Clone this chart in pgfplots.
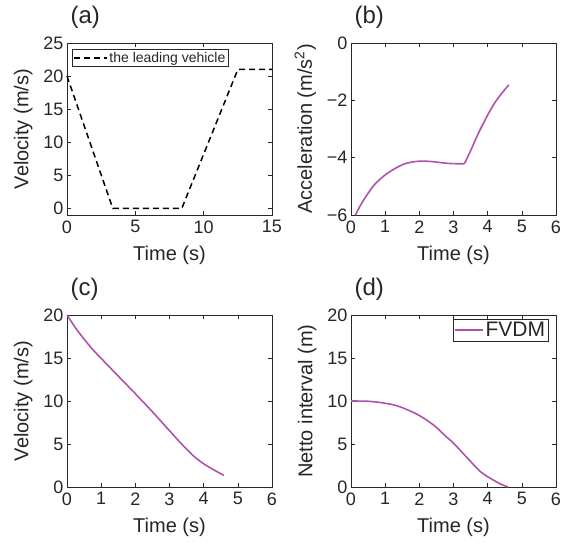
\documentclass[border=0pt]{standalone}
\usepackage{fontspec}
\setmainfont{Liberation Sans}
\usepackage{pgfplots}
\pgfplotsset{compat=1.18}
\definecolor{fv}{RGB}{176,82,170}
\definecolor{axc}{RGB}{40,40,40}
\begin{document}
\begin{tikzpicture}
\useasboundingbox (0pt,0pt) rectangle (562pt,-542pt);
\pgfplotsset{
  every axis/.append style={
    scale only axis, width=205pt, height=172pt, anchor=south west,
    axis line style={axc, line width=0.8pt},
    tick style={axc, line width=0.6pt},
    major tick length=4pt,
    tick align=inside,
    /pgf/number format/assume math mode=true,
    ticklabel style={font=\fontsize{18}{20}\selectfont, text=black!85},
    xticklabel shift=2pt,
    label style={font=\fontsize{20}{22}\selectfont, text=black!85},
    xlabel shift=6pt,
    ylabel shift=4pt,
    legend style={draw=axc, line width=0.8pt, inner sep=1pt, outer sep=0pt,
      legend cell align=left, text=black!85},
    clip=false,
  }
}
% (a)
\begin{axis}[name=a, at={(67pt,-215pt)},
  xmin=0, xmax=15, ymin=-1, ymax=25,
  xtick={0,5,10,15}, ytick={0,5,10,15,20,25},
  xlabel={Time (s)}, ylabel={Velocity (m/s)},
  legend style={at={(rel axis cs:0.024,0.965)}, anchor=north west,
    font=\fontsize{14}{15}\selectfont},
  legend image code/.code={\draw[#1] (0pt,0pt) -- (33pt,0pt);},
]
\addplot[black, line width=1.5pt, dash pattern=on 6pt off 4pt] coordinates {
(0,20) (3.35,0) (8.4,0) (12.5,21) (15,21)};
\addlegendentry{the leading vehicle}
\end{axis}
\node[anchor=base west, font=\fontsize{24}{26}\selectfont, text=black!85] at ([yshift=20pt]a.north west) {(a)};
% (b)
\begin{axis}[name=b, at={(351pt,-215pt)},
  xmin=0, xmax=6, ymin=-6, ymax=0,
  xtick={0,1,2,3,4,5,6}, ytick={-6,-4,-2,0},
  yticklabels={−6,−4,−2,0},
  xlabel={Time (s)}, ylabel={Acceleration (m/s\textsuperscript{2})},
]
\addplot[fv, line width=1.6pt, smooth] coordinates {
(0.13,-6.0) (0.25,-5.72) (0.4,-5.42) (0.68,-4.95) (0.98,-4.62) (1.27,-4.39)
(1.56,-4.22) (1.85,-4.14) (2.1,-4.12) (2.4,-4.14) (2.75,-4.19) (3.05,-4.21) (3.32,-4.21)};
\addplot[fv, line width=1.6pt, smooth] coordinates {
(3.32,-4.21) (3.5,-3.76) (3.7,-3.22) (3.9,-2.74) (4.07,-2.36) (4.25,-2.01)
(4.45,-1.7) (4.62,-1.46)};
\end{axis}
\node[anchor=base west, font=\fontsize{24}{26}\selectfont, text=black!85] at ([yshift=20pt]b.north west) {(b)};
% (c)
\begin{axis}[name=c, at={(67pt,-487pt)},
  xmin=0, xmax=6, ymin=0, ymax=20,
  xtick={0,1,2,3,4,5,6}, ytick={0,5,10,15,20},
  xlabel={Time (s)}, ylabel={Velocity (m/s)},
]
\addplot[fv, line width=1.6pt, smooth] coordinates {
(0,20) (0.25,18.5) (0.5,17.2) (0.75,16.0) (1.0,14.95) (1.5,12.9) (2.0,10.85)
(2.5,8.75) (3.0,6.55) (3.25,5.45) (3.5,4.4) (3.75,3.45) (4.0,2.7) (4.25,2.1) (4.59,1.35)};
\end{axis}
\node[anchor=base west, font=\fontsize{24}{26}\selectfont, text=black!85] at ([yshift=20pt]c.north west) {(c)};
% (d)
\begin{axis}[name=d, at={(351pt,-487pt)},
  xmin=0, xmax=6, ymin=0, ymax=20,
  xtick={0,1,2,3,4,5,6}, ytick={0,5,10,15,20},
  xlabel={Time (s)}, ylabel={Netto interval (m)},
  legend style={at={(rel axis cs:0.961,0.977)}, anchor=north east,
    font=\fontsize{21}{23}\selectfont},
  legend image code/.code={\draw[#1] (0pt,0pt) -- (28pt,0pt);},
]
\addplot[fv, line width=1.6pt, smooth] coordinates {
(0,10) (0.5,9.97) (0.9,9.8) (1.3,9.5) (1.7,8.9) (2.05,8.2) (2.45,7.1)
(2.8,5.8) (3.0,5.1) (3.4,3.4) (3.8,1.75) (4.17,0.8) (4.4,0.3) (4.6,0)};
\addlegendentry{FVDM}
\end{axis}
\node[anchor=base west, font=\fontsize{24}{26}\selectfont, text=black!85] at ([yshift=20pt]d.north west) {(d)};
\end{tikzpicture}
\end{document}
